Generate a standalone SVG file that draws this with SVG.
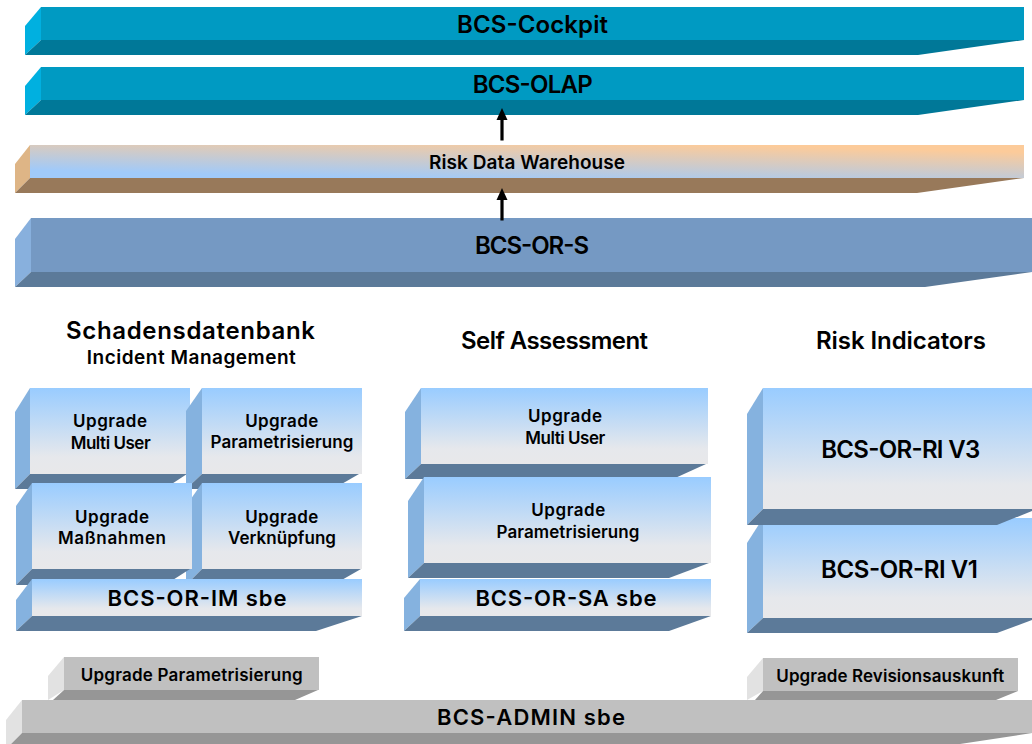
<svg xmlns="http://www.w3.org/2000/svg" width="1032" height="744" viewBox="0 0 1032 744">
<defs>
<linearGradient id="blue" x1="0" y1="0" x2="0" y2="1"><stop offset="0" stop-color="#99ccff"/><stop offset="0.8" stop-color="#e6e8ec"/><stop offset="1" stop-color="#e8e8ea"/></linearGradient>
<linearGradient id="rdw" gradientUnits="userSpaceOnUse" x1="30" y1="170" x2="31" y2="128.4"><stop offset="0" stop-color="#a0cafa"/><stop offset="1" stop-color="#fccb9a"/></linearGradient>
<marker id="ah" markerUnits="userSpaceOnUse" markerWidth="13" markerHeight="12" refX="1" refY="6" orient="auto"><path d="M0 0.5L12 6L0 11.5Z" fill="#000"/></marker>
</defs>
<style>
text{font-family:Inter,"Liberation Sans",Arial,sans-serif;font-weight:600;fill:#000;text-anchor:middle}
.s{font-size:17px}.m{font-size:19px}.n{font-size:22px}.l23{font-size:24px}
.teal .l{fill:#00b0e0}.teal .f{fill:#009ac2}.teal .b{fill:#007898}
.sand .l{fill:#deb586}.sand .b{fill:#98795a}
.steel .l{fill:#88b0dd}.steel .f{fill:#7599c3}.steel .b{fill:#5c7a99}
.sky .l{fill:#85b2df}.sky .f{fill:url(#blue)}.sky .b{fill:#5c7a99}
.grey .l{fill:#e2e2e2}.grey .f{fill:#c0c0c0}.grey .b{fill:#969696}
.c{fill:none;stroke:#000;stroke-width:3.2;marker-end:url(#ah)}
</style>
<g id="cockpit" class="teal"><path class="l" d="M25 26L41 7V40L25 55Z"/><path class="b" d="M25 55L41 40H1024L918 55Z"/><rect class="f" x="41" y="7" width="983" height="33"/><text class="l23" x="532.5" y="33" textLength="151">BCS-Cockpit</text></g>
<g id="olap" class="teal"><path class="l" d="M25 86L41 67V100L25 115Z"/><path class="b" d="M25 115L41 100H1024L918 115Z"/><rect class="f" x="41" y="67" width="983" height="33"/><text class="l23" x="532.7" y="93" textLength="120">BCS-OLAP</text></g>
<g id="rdw" class="sand"><path class="l" d="M15 164L30 145V178L15 193Z"/><path class="b" d="M15 193L30 178H1024L917 193Z"/><rect x="30" y="145" width="994" height="33" fill="url(#rdw)"/><text class="m" x="527" y="168.500" textLength="196">Risk Data Warehouse</text></g>
<g id="ors" class="steel"><path class="l" d="M15 239L31 218V272L15 287Z"/><path class="b" d="M15 287L31 272H1032L925 287Z"/><rect class="f" x="31" y="218" width="1001" height="54"/><text class="l23" x="532" y="253.500" textLength="114">BCS-OR-S</text></g>
<g id="connectors"><path class="c" d="M502 140.500V119"/><path class="c" d="M502 220.500V199"/></g>
<g id="headings"><text class="l23" x="190.500" y="338.500" textLength="249">Schadensdatenbank</text><text class="m" x="191.300" y="363.500" textLength="209">Incident Management</text><text class="l23" x="554.500" y="348.500" textLength="187">Self Assessment</text><text class="l23" x="901" y="348.500" textLength="170">Risk Indicators</text></g>
<g id="im-a" class="sky"><path class="l" d="M15 412L30 388V474L15 489Z"/><path class="b" d="M15 489L30 474H187L164 489Z"/><rect class="f" x="30" y="388" width="160" height="86"/><text class="s" x="110" y="427" textLength="74">Upgrade</text><text class="s" x="110.700" y="449" textLength="80">Multi User</text></g>
<g id="im-b" class="sky"><path class="l" d="M186 411L202 388V474L186 489Z"/><path class="b" d="M186 489L202 474H359L333 489Z"/><rect class="f" x="202" y="388" width="160" height="86"/><text class="s" x="281.700" y="427" textLength="73">Upgrade</text><text class="s" x="282" y="448" textLength="143">Parametrisierung</text></g>
<g id="im-d" class="sky"><path class="l" d="M186 506L202 483V569L186 585Z"/><path class="b" d="M186 585L202 569H361L333 585Z"/><rect class="f" x="202" y="483" width="160" height="86"/><text class="s" x="281.700" y="523" textLength="73">Upgrade</text><text class="s" x="282" y="544" textLength="108">Verknüpfung</text></g>
<g id="im-c" class="sky"><path class="l" d="M16 506L32 483V569L16 585Z"/><path class="b" d="M16 585L32 569H190L165 585Z"/><rect class="f" x="32" y="483" width="160" height="86"/><text class="s" x="112" y="523" textLength="74">Upgrade</text><text class="s" x="112" y="544" textLength="108">Maßnahmen</text></g>
<g id="im-sbe" class="sky"><path class="l" d="M16 600L32 579V616L16 631Z"/><path class="b" d="M16 631L32 616H362L316 631Z"/><rect class="f" x="32" y="579" width="330" height="37"/><text class="n" x="197" y="606" textLength="179">BCS-OR-IM sbe</text></g>
<g id="sa-a" class="sky"><path class="l" d="M405 412L421 388V464L405 479Z"/><path class="b" d="M405 479L421 464H706L673 479Z"/><rect class="f" x="421" y="388" width="287" height="76"/><text class="s" x="565" y="422" textLength="74">Upgrade</text><text class="s" x="565.300" y="443.500" textLength="80">Multi User</text></g>
<g id="sa-b" class="sky"><path class="l" d="M408 501L424 477V563L408 578Z"/><path class="b" d="M408 578L424 563H709L669 578Z"/><rect class="f" x="424" y="477" width="287" height="86"/><text class="s" x="568.300" y="516" textLength="74">Upgrade</text><text class="s" x="568" y="537.500" textLength="143">Parametrisierung</text></g>
<g id="sa-sbe" class="sky"><path class="l" d="M404 598L420 579V616L404 631Z"/><path class="b" d="M404 631L420 616H711L669 631Z"/><rect class="f" x="420" y="579" width="291" height="37"/><text class="n" x="566" y="606" textLength="181">BCS-OR-SA sbe</text></g>
<g id="ri-v1" class="sky"><path class="l" d="M747 543L763 518V618L747 633Z"/><path class="b" d="M747 633L763 618H1032V620L997 633Z"/><rect class="f" x="763" y="518" width="269" height="100"/><text class="l23" x="899.500" y="577.500" textLength="157">BCS-OR-RI V1</text></g>
<g id="ri-v3" class="sky"><path class="l" d="M747 414L763 388V509L747 525Z"/><path class="b" d="M747 525L763 509H1032V511L997 525Z"/><rect class="f" x="763" y="388" width="269" height="121"/><text class="l23" x="900.700" y="458" textLength="159">BCS-OR-RI V3</text></g>
<g id="up-param" class="grey"><path class="l" d="M48 676L64 657V690L48 700Z"/><path class="b" d="M53 700L64 690H318L295 700Z"/><rect class="f" x="64" y="657" width="255" height="33"/><text class="s" x="191.700" y="680.500" textLength="222">Upgrade Parametrisierung</text></g>
<g id="up-rev" class="grey"><path class="l" d="M747 677L763 658V691L747 700Z"/><path class="b" d="M755 700L763 691H1018L996 700Z"/><rect class="f" x="763" y="658" width="255" height="33"/><text class="s" x="890.300" y="681.500" textLength="228">Upgrade Revisionsauskunft</text></g>
<g id="admin" class="grey"><path class="l" d="M6 720L22 700V733L6 749Z"/><path class="b" d="M6 749L22 733H1032L960 744V749Z"/><rect class="f" x="22" y="700" width="1010" height="33"/><text class="n" x="531" y="725" textLength="188">BCS-ADMIN sbe</text></g>
</svg>
